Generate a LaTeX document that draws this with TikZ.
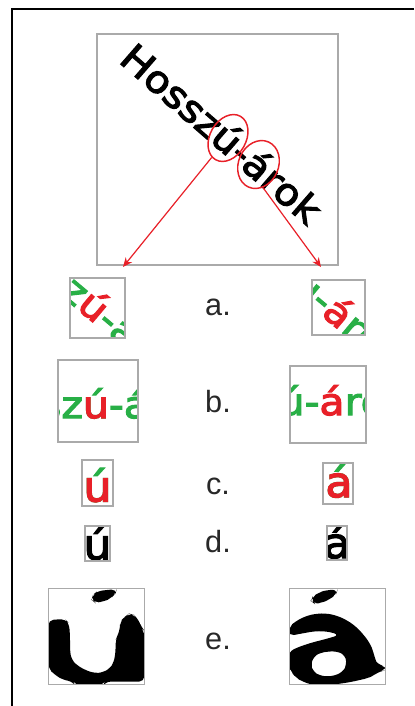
\documentclass[tikz,border=0pt]{standalone}
\usepackage{fontspec}
\setmainfont{Liberation Sans}
\font\wfont="DejaVu Sans:embolden=3;extend=1.1" at 28pt
\font\cfont="DejaVu Sans:embolden=3;extend=1.05" at 31.5pt
\usetikzlibrary{shapes.geometric,arrows.meta}
\definecolor{myred}{RGB}{232,32,40}
\definecolor{mygreen}{RGB}{40,175,70}
\definecolor{boxgray}{RGB}{170,170,170}
\definecolor{labgray}{RGB}{40,40,40}
\begin{document}
\begin{tikzpicture}[x=0.75pt,y=-0.75pt,
  crop/.style={draw=boxgray, line width=0.9pt},
  wtxt/.style={inner sep=0pt, outer sep=0pt, font=\wfont},
  btxt/.style={inner sep=0pt, outer sep=0pt, font=\cfont},
  lab/.style={inner sep=0pt, text=labgray, font=\fontsize{23pt}{26pt}\selectfont},
  ell/.style={ellipse, draw=myred, line width=1.1pt, inner sep=0pt},
  redarrow/.style={draw=myred, line width=0.9pt, -{Stealth[length=7pt,width=6pt]}}
]
\useasboundingbox (0,0) rectangle (414,706);
\fill[white] (0,0) rectangle (414,706);
\draw[line width=1pt] (414,9) -- (12,9) -- (12,706);

% ---------- main picture ----------
\draw[crop] (97,34) rectangle (338,265);
\node[wtxt, rotate=-41] (mu) at (228,138) {ú};
\node[wtxt, rotate=-41, anchor=base east] (mh) at (mu.base west) {Hossz};
\node[wtxt, rotate=-41, anchor=base west] (md) at (mu.base east) {-};
\node[wtxt, rotate=-41, anchor=base west] (ma) at (md.base east) {á};
\node[wtxt, rotate=-41, anchor=base west] (mr) at (ma.base east) {rok};
\node[ell, rotate=-30, minimum width=27pt, minimum height=37.5pt] (e1) at (mu.center) {};
\node[ell, rotate=-24, minimum width=30pt, minimum height=37pt] (e2) at (ma.center) {};
\coordinate (t1) at (123,267);
\coordinate (t2) at (321,267);
\draw[redarrow] (e1.-100) -- (t1);
\draw[redarrow] (e2.-55) -- (t2);

% ---------- row a ----------
\begin{scope}
\clip (70,278) rectangle (125,338);
\node[wtxt, rotate=-40, text=myred] (au) at (95,305) {ú};
\node[wtxt, rotate=-40, text=mygreen, anchor=base east] (ah) at (au.base west) {Hossz};
\node[wtxt, rotate=-40, text=mygreen, anchor=base west] (ar) at (au.base east) {-árok};
\end{scope}
\draw[crop] (70,278) rectangle (125,338);
\begin{scope}
\clip (312,280) rectangle (365,335);
\node[wtxt, rotate=-40, text=myred] (aa) at (339.5,311.5) {á};
\node[wtxt, rotate=-40, text=mygreen, anchor=base east] (aah) at (aa.base west) {Hosszú-};
\node[wtxt, rotate=-40, text=mygreen, anchor=base west] (aar) at (aa.base east) {rok};
\end{scope}
\draw[crop] (312,280) rectangle (365,335);
\node[lab, anchor=base] (la) at (218,315) {a.};

% ---------- row b ----------
\begin{scope}
\clip (58,360) rectangle (138,442);
\node[wtxt, text=mygreen, anchor=base] (bu) at (96,418) {ú};
\node[wtxt, text=myred, anchor=base] (bur) at (96,418) {u};
\node[wtxt, text=mygreen, anchor=base east] (bh) at (bu.base west) {Hossz};
\node[wtxt, text=mygreen, anchor=base west] (br) at (bu.base east) {-árok};
\end{scope}
\draw[crop] (58,360) rectangle (138,442);
\begin{scope}
\clip (290,366) rectangle (366,443);
\node[wtxt, text=myred, anchor=base] (ba) at (332,415) {á};
\node[wtxt, text=mygreen, anchor=base east] (bah) at (ba.base west) {Hosszú-};
\node[wtxt, text=mygreen, anchor=base west] (bar) at (ba.base east) {rok};
\end{scope}
\draw[crop] (290,366) rectangle (366,443);
\node[lab, anchor=base] (lb) at (218,412) {b.};

% ---------- row c ----------
\begin{scope}
\clip (82,460) rectangle (113,506);
\node[btxt, text=mygreen, anchor=base] (cu) at (97.5,501.5) {ú};
\node[btxt, text=myred, anchor=base] (cur) at (97.5,501.5) {u};
\end{scope}
\draw[crop] (82,460) rectangle (113,506);
\begin{scope}
\clip (323,463) rectangle (353,504);
\node[btxt, text=mygreen, anchor=base] (ca) at (339,497) {á};
\node[btxt, text=myred, anchor=base] (car) at (339,497) {a};
\end{scope}
\draw[crop] (323,463) rectangle (353,504);
\node[lab, anchor=base] (lc) at (218,494) {c.};

% ---------- row d ----------
\begin{scope}
\clip (85,526) rectangle (110,561);
\node[btxt, anchor=base] (du) at (97.5,559.5) {ú};
\end{scope}
\draw[crop] (85,526) rectangle (110,561);
\begin{scope}
\clip (327,526) rectangle (347,560);
\node[btxt, anchor=base] (da) at (337,558) {á};
\end{scope}
\draw[crop] (327,526) rectangle (347,560);
\node[lab, anchor=base] (ld) at (218,552) {d.};

% ---------- row e ----------
\begin{scope}[shift={(45,585)}, scale=1/3]
\clip (10,10) rectangle (298,298);
\fill[black, rounded corners=4pt] (10,105) -- (60,102) -- (72,115) -- (75,150) -- (75,200) -- (80,225) -- (95,240) -- (120,255) -- (150,265) -- (175,262) -- (195,250) -- (205,235) -- (210,215) -- (212,190) -- (212,165) -- (218,150) -- (225,135) -- (225,110) -- (240,95) -- (252,86) -- (266,89) -- (277,101) -- (286,117) -- (292,132) -- (298,138) -- (298,290) -- (180,290) -- (175,300) -- (90,300) -- (85,290) -- (55,285) -- (30,270) -- (10,250) -- cycle;
\fill[black, rounded corners=4pt] (140,45) -- (143,30) -- (158,18) -- (215,12) -- (212,25) -- (198,40) -- (175,50) -- (150,53) -- cycle;
\end{scope}
\draw[crop] (48.3,588.3) rectangle (144.3,684.3);
\begin{scope}[shift={(286,585)}, scale=1/3]
\clip (10,10) rectangle (298,298);
\fill[black, even odd rule, rounded corners=4pt] (10,125) -- (30,108) -- (60,93) -- (90,86) -- (120,85) -- (150,91) -- (180,104) -- (208,123) -- (232,148) -- (252,175) -- (262,200) -- (268,225) -- (275,240) -- (300,242) -- (300,256) -- (282,258) -- (265,270) -- (245,280) -- (220,285) -- (200,290) -- (170,295) -- (130,300) -- (80,300) -- (50,290) -- (30,278) -- (15,260) -- (8,240) -- (8,200) -- (40,185) -- (80,172) -- (120,162) -- (160,150) -- (130,140) -- (90,138) -- (50,145) -- (8,153) -- cycle
 (75,240) -- (82,215) -- (105,202) -- (150,198) -- (178,210) -- (182,240) -- (170,262) -- (135,275) -- (100,272) -- (80,258) -- cycle;
\fill[black, rounded corners=4pt] (75,48) -- (80,35) -- (100,22) -- (122,15) -- (155,14) -- (150,28) -- (130,44) -- (105,54) -- (85,56) -- cycle;
\end{scope}
\draw[crop] (289.3,588.3) rectangle (385.3,684.3);
\node[lab, anchor=base] (le) at (218,649) {e.};
\end{tikzpicture}
\end{document}
